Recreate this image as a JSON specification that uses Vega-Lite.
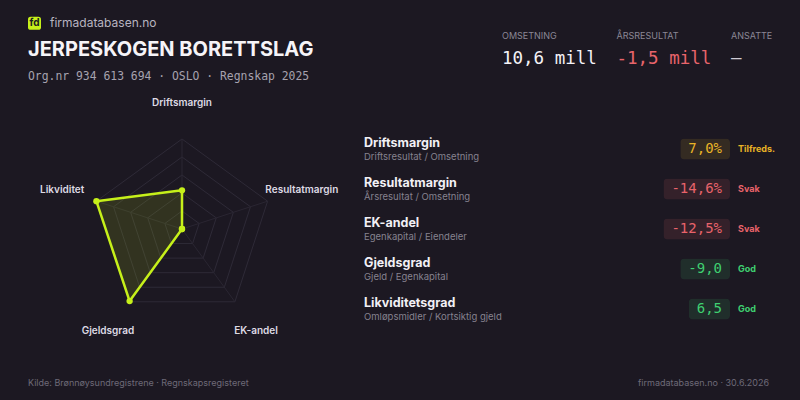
{
  "$schema": "https://vega.github.io/schema/vega-lite/v6.json",
  "background": "#1c1822",
  "padding": {"left": 28, "right": 24, "top": 10, "bottom": 2},
  "config": {"view": {"stroke": null}, "font": "Inter", "text": {"baseline": "middle"}},
  "resolve": {"scale": {"color": "independent", "x": "independent", "y": "independent"}},
  "datasets": {
    "header": [
      {"line": "brand", "text": "firmadatabasen.no"},
      {"line": "name", "text": "JERPESKOGEN BORETTSLAG"},
      {"line": "org", "text": "Org.nr 934 613 694  ·  OSLO  ·  Regnskap 2025"}
    ],
    "kpi": [
      {"metric": "OMSETNING", "value": "10,6 mill", "tone": "neutral"},
      {"metric": "ÅRSRESULTAT", "value": "-1,5 mill", "tone": "negative"},
      {"metric": "ANSATTE", "value": "–", "tone": "none"}
    ],
    "axes": [
      {"axis": "Driftsmargin", "score": 0.43},
      {"axis": "Resultatmargin", "score": 0},
      {"axis": "EK-andel", "score": 0},
      {"axis": "Gjeldsgrad", "score": 0.99},
      {"axis": "Likviditet", "score": 1.0}
    ],
    "table": [
      {"metric": "Driftsmargin", "formula": "Driftsresultat / Omsetning", "value": 7.0, "display": "7,0%", "status": "Tilfreds."},
      {"metric": "Resultatmargin", "formula": "Årsresultat / Omsetning", "value": -14.6, "display": "-14,6%", "status": "Svak"},
      {"metric": "EK-andel", "formula": "Egenkapital / Eiendeler", "value": -12.5, "display": "-12,5%", "status": "Svak"},
      {"metric": "Gjeldsgrad", "formula": "Gjeld / Egenkapital", "value": -9.0, "display": "-9,0", "status": "God"},
      {"metric": "Likviditetsgrad", "formula": "Omløpsmidler / Kortsiktig gjeld", "value": 6.5, "display": "6,5", "status": "God"}
    ]
  },
  "spacing": 5,
  "vconcat": [
    {
      "hconcat": [
        {
          "width": 446,
          "height": 80,
          "data": {"name": "header"},
          "encoding": {
            "x": {"datum": 0, "type": "quantitative", "scale": {"domain": [0, 1]}, "axis": null},
            "y": {"field": "line", "type": "nominal", "sort": null, "scale": {"type": "point", "domain": ["brand", "name", "org"], "padding": 0.5}, "axis": null}
          },
          "layer": [
            {
              "transform": [{"filter": "datum.line === 'brand'"}],
              "mark": {"type": "point", "shape": "M-1,-0.6Q-1,-1,-0.6,-1L0.6,-1Q1,-1,1,-0.6L1,0.6Q1,1,0.6,1L-0.6,1Q-1,1,-1,0.6Z", "size": 169, "filled": true, "color": "#c6f01a", "opacity": 1, "xOffset": 6.5}
            },
            {
              "transform": [{"filter": "datum.line === 'brand'"}],
              "mark": {"type": "text", "text": "fd", "align": "center", "dx": 6.5, "fontSize": 10, "fontWeight": 700, "fill": "#1c1822"}
            },
            {
              "transform": [{"filter": "datum.line === 'brand'"}],
              "mark": {"type": "text", "align": "left", "dx": 22, "fontSize": 12, "fill": "#b8b4c0"},
              "encoding": {"text": {"field": "text", "type": "nominal"}}
            },
            {
              "transform": [{"filter": "datum.line === 'name'"}],
              "mark": {"type": "text", "align": "left", "fontSize": 20, "fontWeight": 700, "fill": "#f6f4f8"},
              "encoding": {"text": {"field": "text", "type": "nominal"}}
            },
            {
              "transform": [{"filter": "datum.line === 'org'"}],
              "mark": {"type": "text", "align": "left", "font": "DejaVu Sans Mono", "fontSize": 11.4, "fill": "#a6a2ae"},
              "encoding": {"text": {"field": "text", "type": "nominal"}}
            }
          ]
        },
        {
          "width": 229,
          "height": 74,
          "data": {"name": "kpi"},
          "encoding": {
            "x": {"field": "metric", "type": "nominal", "sort": null, "scale": {"type": "point", "domain": ["OMSETNING", "ÅRSRESULTAT", "ANSATTE"], "padding": 0}, "axis": null}
          },
          "layer": [
            {
              "mark": {"type": "text", "align": "left", "fontSize": 9, "fill": "#8b8795", "dy": 1.5},
              "encoding": {
                "y": {"datum": "label", "type": "nominal", "scale": {"type": "point", "domain": ["label", "value"], "padding": 1.5}, "axis": null},
                "text": {"field": "metric", "type": "nominal"}
              }
            },
            {
              "mark": {"type": "text", "align": "left", "font": "DejaVu Sans Mono", "fontSize": 17.5},
              "encoding": {
                "y": {"datum": "value", "type": "nominal", "scale": {"type": "point", "domain": ["label", "value"], "padding": 1.5}, "axis": null},
                "text": {"field": "value", "type": "nominal"},
                "color": {"field": "tone", "type": "nominal", "scale": {"domain": ["neutral", "negative", "none"], "range": ["#f4f2f7", "#e8646b", "#cfcbd5"]}, "legend": null}
              }
            }
          ]
        }
      ],
      "spacing": 28,
      "bounds": "flush"
    },
    {
      "hconcat": [
        {
          "width": 308,
          "height": 268,
          "data": {"name": "axes"},
          "transform": [
            {"window": [{"op": "row_number", "as": "k"}]},
            {"calculate": "(datum.k - 1) * 2 * PI / 5", "as": "ang"},
            {"calculate": "0", "as": "z"}
          ],
          "layer": [
            {
              "transform": [
                {"calculate": "[0.2, 0.4, 0.6, 0.8, 1]", "as": "lv"},
                {"flatten": ["lv"]},
                {"calculate": "datum.lv * sin(datum.ang)", "as": "gx"},
                {"calculate": "datum.lv * cos(datum.ang)", "as": "gy"}
              ],
              "mark": {"type": "line", "interpolate": "linear-closed", "stroke": "#2e2a37", "strokeWidth": 1},
              "encoding": {
                "x": {"field": "gx", "type": "quantitative", "scale": {"domain": [-1.711, 1.711], "nice": false, "zero": false}, "axis": null},
                "y": {"field": "gy", "type": "quantitative", "scale": {"domain": [-1.489, 1.489], "nice": false, "zero": false}, "axis": null},
                "detail": {"field": "lv", "type": "nominal"},
                "order": {"field": "k", "type": "quantitative"}
              }
            },
            {
              "transform": [
                {"calculate": "sin(datum.ang)", "as": "ex"},
                {"calculate": "cos(datum.ang)", "as": "ey"}
              ],
              "mark": {"type": "rule", "stroke": "#2a2632", "strokeWidth": 1},
              "encoding": {
                "x": {"field": "z", "type": "quantitative", "axis": null},
                "y": {"field": "z", "type": "quantitative", "axis": null},
                "x2": {"field": "ex"},
                "y2": {"field": "ey"}
              }
            },
            {
              "transform": [
                {"calculate": "datum.score * sin(datum.ang)", "as": "px"},
                {"calculate": "datum.score * cos(datum.ang)", "as": "py"}
              ],
              "mark": {"type": "line", "interpolate": "linear-closed", "stroke": "#c6f01a", "strokeWidth": 2.5, "strokeJoin": "round", "fill": "#c6f01a", "fillOpacity": 0.13},
              "encoding": {
                "x": {"field": "px", "type": "quantitative", "axis": null},
                "y": {"field": "py", "type": "quantitative", "axis": null},
                "order": {"field": "k", "type": "quantitative"}
              }
            },
            {
              "transform": [
                {"calculate": "datum.score * sin(datum.ang)", "as": "px"},
                {"calculate": "datum.score * cos(datum.ang)", "as": "py"}
              ],
              "mark": {"type": "point", "filled": true, "size": 40, "color": "#c6f01a", "opacity": 1},
              "encoding": {
                "x": {"field": "px", "type": "quantitative", "axis": null},
                "y": {"field": "py", "type": "quantitative", "axis": null}
              }
            },
            {
              "transform": [
                {"calculate": "1.4 * sin(datum.ang)", "as": "lx"},
                {"calculate": "1.4 * cos(datum.ang)", "as": "ly"}
              ],
              "mark": {"type": "text", "align": "center", "fontSize": 10, "fontWeight": 600, "fill": "#dedae4"},
              "encoding": {
                "x": {"field": "lx", "type": "quantitative", "axis": null},
                "y": {"field": "ly", "type": "quantitative", "axis": null},
                "text": {"field": "axis", "type": "nominal"}
              }
            }
          ]
        },
        {
          "hconcat": [
            {
              "width": 288,
              "height": 268,
              "data": {"name": "table"},
              "encoding": {
                "x": {"datum": 0, "type": "quantitative", "scale": {"domain": [0, 1]}, "axis": null},
                "y": {"field": "metric", "type": "nominal", "sort": null, "scale": {"type": "band", "domain": ["Driftsmargin", "Resultatmargin", "EK-andel", "Gjeldsgrad", "Likviditetsgrad"], "paddingInner": 0, "paddingOuter": 0.85}, "axis": null}
              },
              "layer": [
                {
                  "mark": {"type": "text", "align": "left", "dy": -6, "fontSize": 12.5, "fontWeight": 700, "fill": "#f2f0f6"},
                  "encoding": {"text": {"field": "metric", "type": "nominal"}}
                },
                {
                  "mark": {"type": "text", "align": "left", "dy": 8, "fontSize": 9.5, "fill": "#86828f"},
                  "encoding": {"text": {"field": "formula", "type": "nominal"}}
                }
              ]
            },
            {
              "width": 70,
              "height": 268,
              "data": {"name": "table"},
              "transform": [{"calculate": "length(datum.display) * 8.43 + 16", "as": "bw"}, {"calculate": "0", "as": "z"}],
              "encoding": {
                "y": {"field": "metric", "type": "nominal", "sort": null, "scale": {"type": "band", "domain": ["Driftsmargin", "Resultatmargin", "EK-andel", "Gjeldsgrad", "Likviditetsgrad"], "paddingInner": 0, "paddingOuter": 0.85}, "axis": null},
                "color": {"field": "status", "type": "nominal", "scale": {"domain": ["Tilfreds.", "Svak", "God"], "range": ["#e8b326", "#e8636b", "#3fd071"]}, "legend": null}
              },
              "layer": [
                {
                  "mark": {"type": "bar", "cornerRadius": 4, "height": {"band": 0.53}, "fillOpacity": 0.12},
                  "encoding": {
                    "x": {"field": "bw", "type": "quantitative", "scale": {"domain": [0, 70], "reverse": true, "nice": false, "zero": true}, "axis": null}
                  }
                },
                {
                  "mark": {"type": "text", "align": "right", "dx": -8, "font": "DejaVu Sans Mono", "fontSize": 14},
                  "encoding": {
                    "x": {"field": "z", "type": "quantitative", "axis": null},
                    "text": {"field": "display", "type": "nominal"}
                  }
                }
              ]
            },
            {
              "width": 38,
              "height": 268,
              "data": {"name": "table"},
              "mark": {"type": "text", "align": "left", "fontSize": 9, "fontWeight": 700},
              "encoding": {
                "x": {"datum": 0, "type": "quantitative", "scale": {"domain": [0, 1]}, "axis": null},
                "y": {"field": "metric", "type": "nominal", "sort": null, "scale": {"type": "band", "domain": ["Driftsmargin", "Resultatmargin", "EK-andel", "Gjeldsgrad", "Likviditetsgrad"], "paddingInner": 0, "paddingOuter": 0.85}, "axis": null},
                "text": {"field": "status", "type": "nominal"},
                "color": {"field": "status", "type": "nominal", "scale": {"domain": ["Tilfreds.", "Svak", "God"], "range": ["#e8b326", "#e8636b", "#3fd071"]}, "legend": null}
              }
            }
          ],
          "spacing": 8,
          "bounds": "flush"
        }
      ],
      "spacing": 28,
      "bounds": "flush"
    },
    {
      "width": 741,
      "height": 30,
      "layer": [
        {
          "data": {"values": [{"text": "Kilde: Brønnøysundregistrene · Regnskapsregisteret"}]},
          "mark": {"type": "text", "align": "left", "fontSize": 9, "fill": "#6e6a78"},
          "encoding": {
            "x": {"datum": 0, "type": "quantitative", "scale": {"domain": [0, 1]}, "axis": null},
            "text": {"field": "text", "type": "nominal"}
          }
        },
        {
          "data": {"values": [{"text": "firmadatabasen.no · 30.6.2026"}]},
          "mark": {"type": "text", "align": "right", "fontSize": 9, "fill": "#6e6a78"},
          "encoding": {
            "x": {"datum": 1, "type": "quantitative", "scale": {"domain": [0, 1]}, "axis": null},
            "text": {"field": "text", "type": "nominal"}
          }
        }
      ]
    }
  ]
}
